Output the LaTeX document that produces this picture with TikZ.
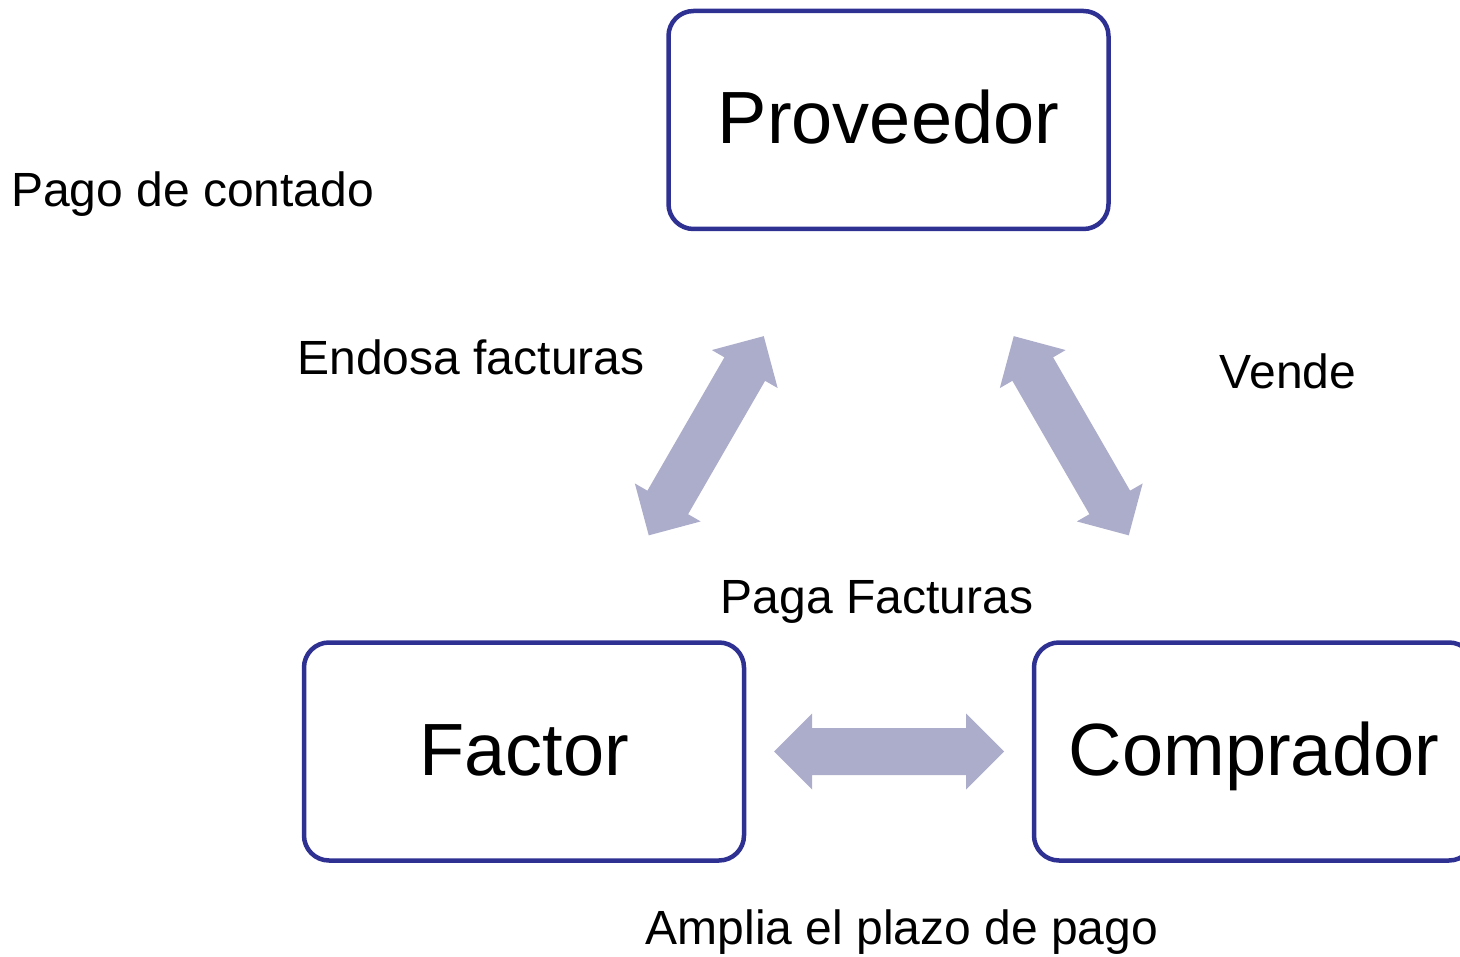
\documentclass[tikz,border=0pt]{standalone}
\usepackage{fontspec}
\setmainfont{Liberation Sans}
\usetikzlibrary{calc}
\definecolor{boxblue}{RGB}{46,49,146}
\definecolor{arrowfill}{RGB}{172,172,203}
\tikzset{
  entity/.style={draw=boxblue, line width=4.5pt, rounded corners=25pt,
    minimum width=440pt, minimum height=218pt, inner sep=0pt,
    text height=54pt, text depth=6pt,
    font=\fontsize{74}{80}\selectfont},
  lbl/.style={anchor=base, inner sep=0pt, font=\fontsize{48}{54}\selectfont},
  blockarrow/.style={fill=arrowfill, draw=none}
}
\begin{document}
\begin{tikzpicture}[x=1pt, y=-1pt]
\useasboundingbox (0,0) rectangle (1460,957);
\clip (0,0) rectangle (1460,957);

\node[entity] (prov) at (888.5,120) {Proveedor};
\node[entity] (fac) at (524,751.5) {Factor};
\node[entity] (comp) at (1254,751.5) {Comprador};

\begin{scope}[shift={($(prov)!0.5!(fac)$)}, rotate=60]
  \fill[blockarrow] (-115,0) -- (-77,38) -- (-77,23.5) -- (77,23.5) -- (77,38) -- (115,0)
    -- (77,-38) -- (77,-23.5) -- (-77,-23.5) -- (-77,-38) -- cycle;
\end{scope}
\begin{scope}[shift={($(prov)!0.5!(comp)$)}, rotate=-60]
  \fill[blockarrow] (-115,0) -- (-77,38) -- (-77,23.5) -- (77,23.5) -- (77,38) -- (115,0)
    -- (77,-38) -- (77,-23.5) -- (-77,-23.5) -- (-77,-38) -- cycle;
\end{scope}
\begin{scope}[shift={($(fac)!0.5!(comp)$)}]
  \fill[blockarrow] (-115,0) -- (-77,38) -- (-77,23.5) -- (77,23.5) -- (77,38) -- (115,0)
    -- (77,-38) -- (77,-23.5) -- (-77,-23.5) -- (-77,-38) -- cycle;
\end{scope}

\node[lbl] (pago) at (192.5,207) {Pago de contado};
\node[lbl] (endosa) at (471,375) {Endosa facturas};
\node[lbl] (vende) at (1288,389) {Vende};
\node[lbl] (paga) at (877,613) {Paga Facturas};
\node[lbl] (amplia) at (902,944) {Amplia el plazo de pago};
\end{tikzpicture}
\end{document}
